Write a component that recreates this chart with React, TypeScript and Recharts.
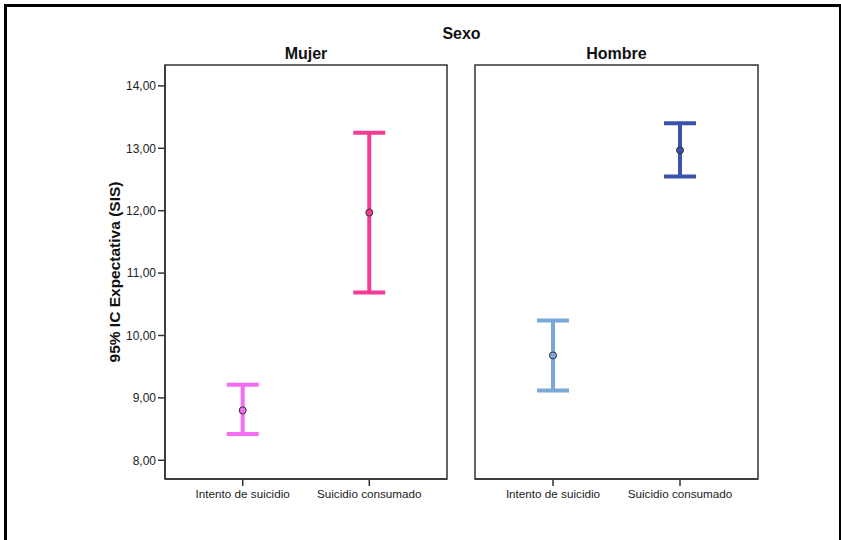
import { ScatterChart, Scatter, ErrorBar, XAxis, YAxis, ReferenceArea } from 'recharts';

const categories = ['Intento de suicidio', 'Suicidio consumado'];
const panelTitles = ['Mujer', 'Hombre'];
const yTicks = [8, 9, 10, 11, 12, 13, 14];

const mujerMean = [8.8, 11.97];
const mujerLow = [8.42, 10.69];
const mujerHigh = [9.21, 13.25];
const mujerColors = ['#f76cf4', '#f23c96'];

const hombreMean = [9.68, 12.97];
const hombreLow = [9.12, 12.55];
const hombreHigh = [10.24, 13.4];
const hombreColors = ['#7aa8d8', '#3b52ab'];

const X_DOMAIN: [number, number] = [-0.614, 1.614];
const Y_DOMAIN: [number, number] = [7.7, 14.335];
const FONT = '"Liberation Sans", Arial, sans-serif';

const fmt = (v: number) => v.toFixed(2).replace('.', ',');

function buildPoints(mean: number[], low: number[], high: number[]) {
  return mean.map((m, i) => ({ x: i, y: m, err: [m - low[i], high[i] - m] }));
}

const MeanDot = (props: any) => {
  const { cx, cy, fill } = props;
  return <circle cx={cx} cy={cy} r={3.5} fill={fill} stroke="#333" strokeWidth={1} />;
};

function Panel({
  points,
  colors,
  showY,
  width,
  marginLeft,
  marginRight,
}: {
  points: { x: number; y: number; err: number[] }[];
  colors: string[];
  showY: boolean;
  width: number;
  marginLeft: number;
  marginRight: number;
}) {
  return (
    <ScatterChart
      width={width}
      height={540}
      margin={{ top: 65, right: marginRight, bottom: 31, left: marginLeft }}
    >
      <XAxis
        type="number"
        dataKey="x"
        domain={X_DOMAIN}
        ticks={[0, 1]}
        allowDataOverflow
        height={30}
        tickSize={7}
        tickMargin={4}
        tickFormatter={(v: number) => categories[v] ?? ''}
        tick={{ fontSize: 11.7, fill: '#222', fontFamily: FONT }}
        axisLine={{ stroke: '#333', strokeWidth: 1.5 }}
        tickLine={{ stroke: '#333', strokeWidth: 1.5 }}
      />
      <YAxis
        type="number"
        dataKey="y"
        domain={Y_DOMAIN}
        ticks={yTicks}
        allowDataOverflow
        hide={!showY}
        width={60}
        tickSize={7}
        tickMargin={2}
        tickFormatter={fmt}
        tick={{ fontSize: 12, fill: '#222', fontFamily: FONT }}
        axisLine={{ stroke: '#333', strokeWidth: 1.5 }}
        tickLine={{ stroke: '#333', strokeWidth: 1.5 }}
        label={
          showY
            ? {
                value: '95% IC Expectativa (SIS)',
                angle: -90,
                position: 'insideLeft',
                offset: 9,
                style: { textAnchor: 'middle', fontSize: 15.5, fontWeight: 'bold', fill: '#111', fontFamily: FONT },
              }
            : undefined
        }
      />
      <ReferenceArea
        x1={X_DOMAIN[0]}
        x2={X_DOMAIN[1]}
        y1={Y_DOMAIN[0]}
        y2={Y_DOMAIN[1]}
        fill="none"
        stroke="#333"
        strokeWidth={1.5}
        fillOpacity={0}
      />
      {points.map((p, i) => (
        <Scatter key={i} data={[p]} fill={colors[i]} shape={MeanDot} isAnimationActive={false}>
          <ErrorBar dataKey="err" direction="y" width={16} strokeWidth={4} stroke={colors[i]} />
        </Scatter>
      ))}
    </ScatterChart>
  );
}

export default function App() {
  const mujer = buildPoints(mujerMean, mujerLow, mujerHigh);
  const hombre = buildPoints(hombreMean, hombreLow, hombreHigh);
  return (
    <div
      style={{
        position: 'fixed',
        left: 0,
        top: 0,
        width: 841,
        height: 540,
        background: '#fff',
        fontFamily: FONT,
        overflow: 'hidden',
      }}
    >
      <div
        style={{
          position: 'absolute',
          left: 4,
          top: 4,
          width: 832,
          height: 560,
          border: '3px solid #000',
        }}
      />
      <div style={{ position: 'absolute', left: 0, top: 0 }}>
        <Panel points={mujer} colors={mujerColors} showY width={460} marginLeft={105} marginRight={13} />
      </div>
      <div style={{ position: 'absolute', left: 460, top: 0 }}>
        <Panel points={hombre} colors={hombreColors} showY={false} width={381} marginLeft={15} marginRight={83} />
      </div>
      <svg width={841} height={540} style={{ position: 'absolute', left: 0, top: 0, pointerEvents: 'none' }}>
        <text x={461.5} y={38.5} textAnchor="middle" fontSize={16} fontWeight="bold" fill="#111" fontFamily={FONT}>
          Sexo
        </text>
        <text x={306} y={59} textAnchor="middle" fontSize={16} fontWeight="bold" fill="#111" fontFamily={FONT}>
          {panelTitles[0]}
        </text>
        <text x={616.5} y={59} textAnchor="middle" fontSize={16} fontWeight="bold" fill="#111" fontFamily={FONT}>
          {panelTitles[1]}
        </text>
      </svg>
    </div>
  );
}
